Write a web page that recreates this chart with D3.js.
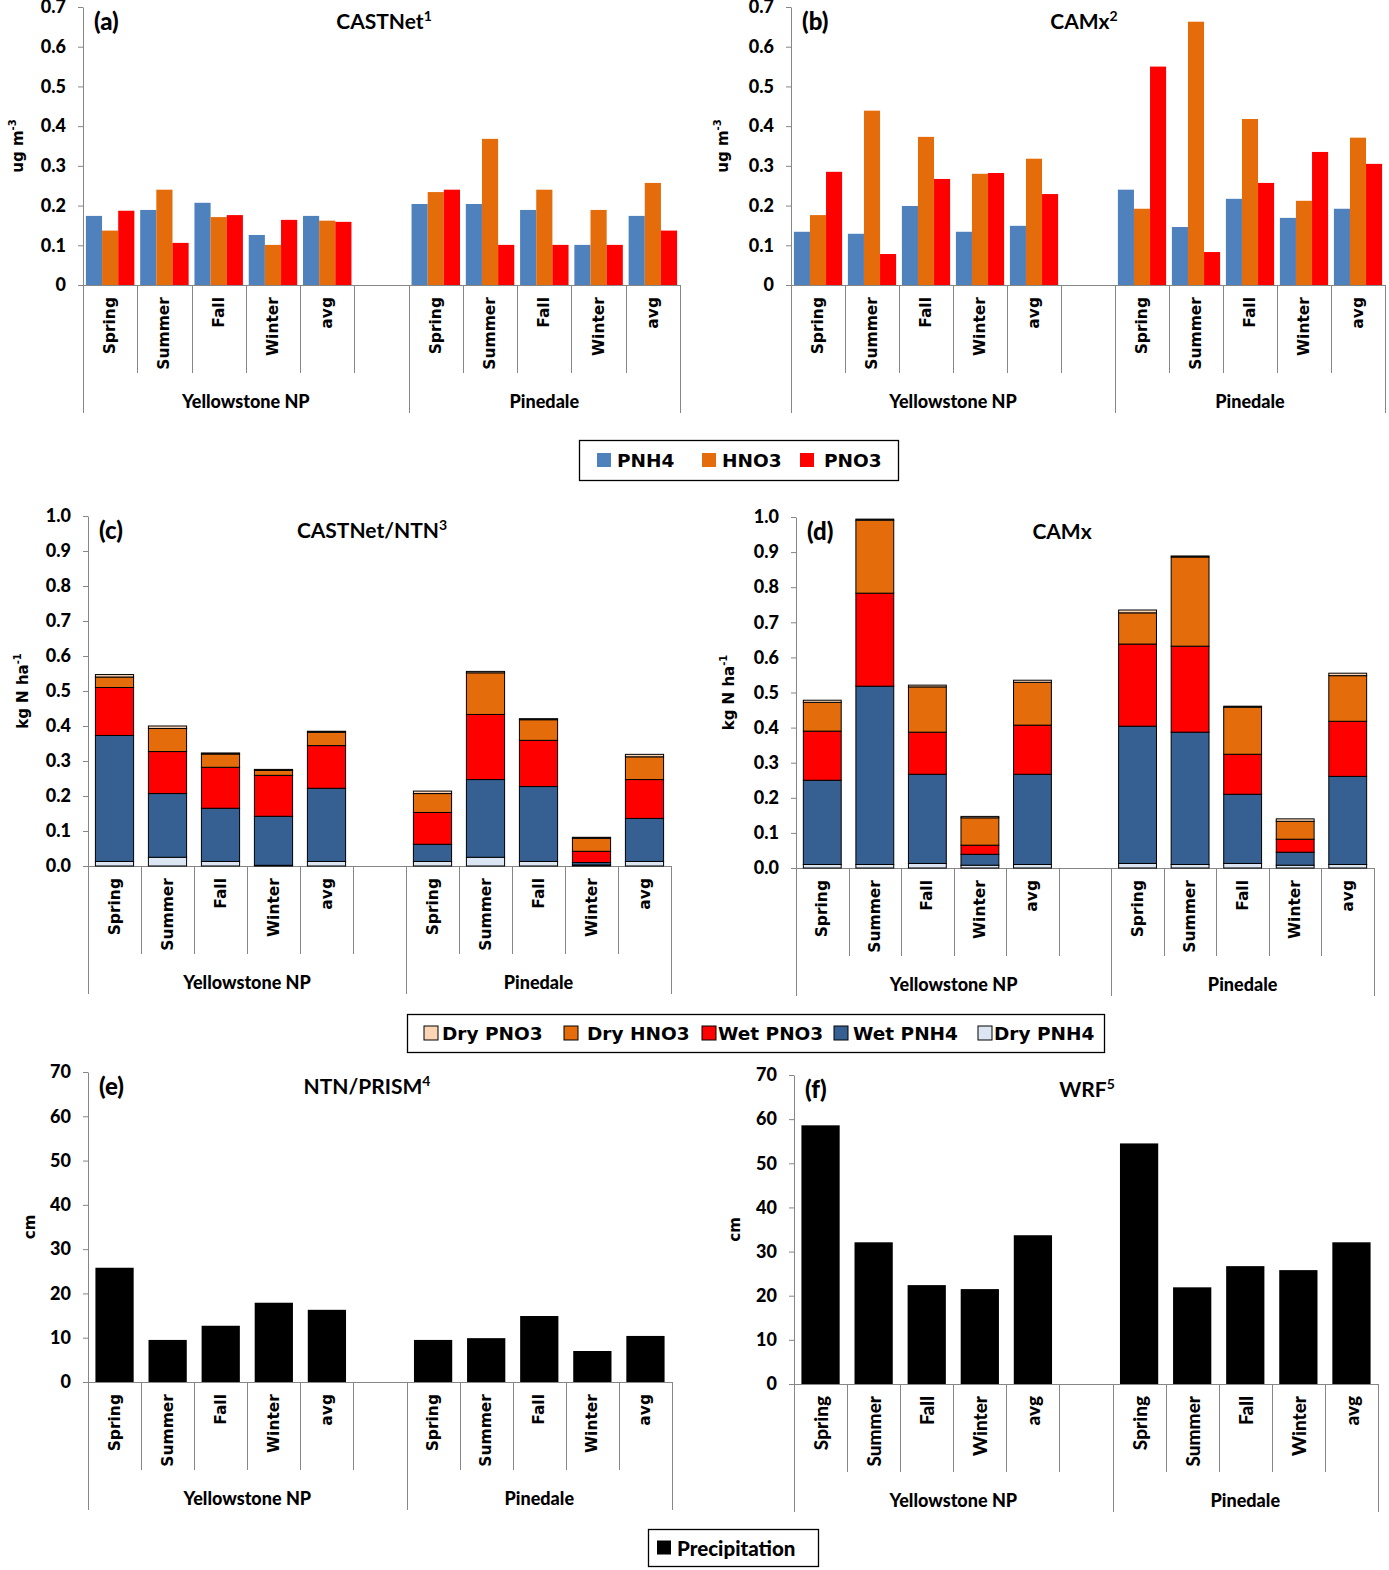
<!DOCTYPE html>
<html>
<head>
<meta charset="utf-8">
<script src="https://cdn.jsdelivr.net/npm/d3@7"></script>
<style>
  body { margin: 0; background: #fff; }
</style>
</head>
<body>
<svg id="chart" width="1389" height="1570"></svg>
<script>
// categories
const sites = ['Yellowstone NP', 'Pinedale']
const seasons = ['Spring', 'Summer', 'Fall', 'Winter', 'avg']
const species = ['PNH4', 'HNO3', 'PNO3']
const depKeys = ['dryPNH4', 'wetPNH4', 'wetPNO3', 'dryHNO3', 'dryPNO3']
const depNames = ['Dry PNH4', 'Wet PNH4', 'Wet PNO3', 'Dry HNO3', 'Dry PNO3']

// tick labels
const concTicks = [0, 0.1, 0.2, 0.3, 0.4, 0.5, 0.6, 0.7]
const depTicks = [0, 0.1, 0.2, 0.3, 0.4, 0.5, 0.6, 0.7, 0.8, 0.9, 1.0]
const precipTicks = [0, 10, 20, 30, 40, 50, 60, 70]

// values: Yellowstone NP (Spring..avg) then Pinedale (Spring..avg)
// (a) CASTNet, ug m-3
const castnetPNH4 = [0.174, 0.189, 0.207, 0.126, 0.174, 0.204, 0.204, 0.189, 0.101, 0.174]
const castnetHNO3 = [0.137, 0.240, 0.171, 0.101, 0.162, 0.234, 0.368, 0.240, 0.189, 0.257]
const castnetPNO3 = [0.187, 0.106, 0.176, 0.164, 0.159, 0.240, 0.101, 0.101, 0.101, 0.137]
// (b) CAMx, ug m-3
const camxPNH4 = [0.134, 0.129, 0.199, 0.134, 0.149, 0.240, 0.146, 0.217, 0.169, 0.192]
const camxHNO3 = [0.176, 0.439, 0.373, 0.280, 0.318, 0.192, 0.663, 0.418, 0.212, 0.371]
const camxPNO3 = [0.285, 0.078, 0.267, 0.282, 0.229, 0.550, 0.083, 0.257, 0.335, 0.305]
// (c) CASTNet/NTN deposition, kg N ha-1
const obsDryPNH4 = [0.013, 0.025, 0.013, 0.002, 0.013, 0.013, 0.025, 0.013, 0.003, 0.013]
const obsWetPNH4 = [0.360, 0.182, 0.152, 0.140, 0.209, 0.049, 0.222, 0.214, 0.007, 0.123]
const obsWetPNO3 = [0.137, 0.120, 0.117, 0.117, 0.122, 0.091, 0.186, 0.132, 0.032, 0.111]
const obsDryHNO3 = [0.030, 0.066, 0.038, 0.014, 0.038, 0.054, 0.119, 0.059, 0.037, 0.065]
const obsDryPNO3 = [0.007, 0.007, 0.003, 0.003, 0.003, 0.007, 0.004, 0.003, 0.003, 0.007]
// (d) CAMx deposition, kg N ha-1
const modDryPNH4 = [0.010, 0.010, 0.013, 0.008, 0.010, 0.013, 0.010, 0.013, 0.008, 0.010]
const modWetPNH4 = [0.240, 0.508, 0.254, 0.031, 0.257, 0.391, 0.377, 0.197, 0.037, 0.251]
const modWetPNO3 = [0.140, 0.265, 0.120, 0.026, 0.140, 0.234, 0.245, 0.114, 0.037, 0.157]
const modDryHNO3 = [0.082, 0.208, 0.129, 0.078, 0.122, 0.089, 0.254, 0.134, 0.051, 0.130]
const modDryPNO3 = [0.006, 0.003, 0.005, 0.004, 0.006, 0.008, 0.003, 0.003, 0.007, 0.007]
// (e) NTN/PRISM and (f) WRF precipitation, cm
const prismPrecip = [25.8, 9.5, 12.7, 17.9, 16.3, 9.5, 9.9, 14.9, 7.0, 10.4]
const wrfPrecip = [58.6, 32.1, 22.4, 21.5, 33.7, 54.5, 21.9, 26.7, 25.8, 32.1]

const concColor = { PNH4: '#4f81bd', HNO3: '#e46c0a', PNO3: '#ff0000' }
const depColor = { dryPNH4: '#dce6f2', wetPNH4: '#376092', wetPNO3: '#ff0000', dryHNO3: '#e46c0a', dryPNO3: '#fcd5b5' }

const WIDE = "'DejaVu Sans', Verdana, sans-serif"
const NARROW = "Lato, 'Open Sans', sans-serif"
const grey = '#868686'

const svg = d3.select('#chart')
svg.append('rect').attr('width', 1389).attr('height', 1570).attr('fill', '#fff')

// 11 slots: 5 seasons, an empty one, 5 seasons
const dataKeys = sites.flatMap((s) => seasons.map((t) => s + '|' + t))
const slotKeys = [...dataKeys.slice(0, 5), 'gap', ...dataKeys.slice(5)]

const fmt1 = (d) => (d === 0 ? '0' : d3.format('.1f')(d))

function frame(p) {
  const x = d3.scaleBand().domain(slotKeys).range([p.left, p.right])
  const y = d3.scaleLinear().domain([0, p.max]).range([p.zero, p.top])
  const g = svg.append('g')

  const ax = g
    .append('g')
    .attr('transform', `translate(${p.left},0)`)
    .call(d3.axisLeft(y).tickValues(p.ticks).tickFormat(p.fmt).tickSize(5).tickSizeOuter(0).tickPadding(12))
  ax.select('.domain').attr('stroke', grey)
  ax.selectAll('.tick line').attr('stroke', grey)
  ax.selectAll('.tick text')
    .attr('fill', '#000')
    .attr('font-family', NARROW)
    .attr('font-weight', 900)
    .attr('font-size', 18)

  // category axis
  g.append('line')
    .attr('x1', p.left).attr('x2', p.right)
    .attr('y1', p.zero + 0.5).attr('y2', p.zero + 0.5)
    .attr('stroke', grey)
  d3.range(slotKeys.length + 1).forEach((i) => {
    const bx = Math.round(p.left + i * x.step()) + 0.5
    const long = i === 0 || i === 6 || i === slotKeys.length
    g.append('line')
      .attr('x1', bx).attr('x2', bx)
      .attr('y1', p.zero).attr('y2', p.zero + (long ? 128 : 88))
      .attr('stroke', grey)
  })
  g.selectAll('.cat')
    .data(dataKeys)
    .join('text')
    .attr('transform', (d) => `translate(${x(d) + x.bandwidth() / 2},${p.zero + 12}) rotate(-90)`)
    .attr('text-anchor', 'end')
    .attr('dominant-baseline', 'central')
    .attr('font-family', p.catFont)
    .attr('font-weight', p.catWeight)
    .attr('font-size', p.catSize)
    .text((d) => d.split('|')[1])
  g.selectAll('.site')
    .data(sites)
    .join('text')
    .attr('x', (s, i) =>
      i === 0 ? (x(dataKeys[0]) + x('gap') + x.bandwidth()) / 2 : (x(dataKeys[5]) + p.right) / 2
    )
    .attr('y', p.zero + 116)
    .attr('text-anchor', 'middle')
    .attr('dominant-baseline', 'central')
    .attr('font-family', NARROW)
    .attr('font-weight', 900)
    .attr('font-size', 18)
    .text((s) => s)

  // y title
  const yt = g.append('text')
    .attr('transform', `translate(${p.left - p.yTitleDx},${(p.zero + p.top) / 2}) rotate(-90)`)
    .attr('text-anchor', 'middle')
    .attr('font-family', WIDE)
    .attr('font-weight', 700)
    .attr('font-size', 15)
  yt.append('tspan').text(p.yTitle)
  if (p.yTitleSup) yt.append('tspan').attr('dy', -7).attr('font-size', 10).text(p.yTitleSup)

  // tag and title
  g.append('text')
    .attr('x', p.left + 11).attr('y', p.top + 23)
    .attr('font-family', NARROW).attr('font-weight', 900).attr('font-size', 24)
    .text(p.tag)
  const tt = g.append('text')
    .attr('x', p.titleX).attr('y', p.top + 22)
    .attr('text-anchor', 'middle')
    .attr('font-family', NARROW).attr('font-weight', 700).attr('font-size', 21)
  tt.append('tspan').text(p.title)
  if (p.titleSup) tt.append('tspan').attr('dy', -8).attr('font-size', 14).text(p.titleSup)

  return { g, x, y }
}

function clustered(p, series) {
  const { g, x, y } = frame(p)
  const x1 = d3.scaleBand().domain(species).range([0, x.bandwidth()]).paddingOuter(0.18)
  const rows = dataKeys.map((k, i) => ({ key: k, vals: species.map((s, j) => ({ s, v: series[j][i] })) }))
  g.selectAll('.grp')
    .data(rows)
    .join('g')
    .attr('transform', (d) => `translate(${x(d.key)},0)`)
    .selectAll('rect')
    .data((d) => d.vals)
    .join('rect')
    .attr('x', (d) => x1(d.s))
    .attr('width', x1.bandwidth())
    .attr('y', (d) => y(d.v))
    .attr('height', (d) => y(0) - y(d.v))
    .attr('fill', (d) => concColor[d.s])
}

function stacked(p, series) {
  const { g, x, y } = frame(p)
  const xb = d3.scaleBand().domain(['bar']).range([0, x.bandwidth()]).paddingOuter(0.194)
  const rows = dataKeys.map((k, i) => {
    const r = { key: k }
    depKeys.forEach((d, j) => (r[d] = series[j][i]))
    return r
  })
  const layers = d3.stack().keys(depKeys)(rows)
  g.selectAll('.layer')
    .data(layers)
    .join('g')
    .attr('fill', (l) => depColor[l.key])
    .selectAll('rect')
    .data((l) => l)
    .join('rect')
    .attr('x', (d) => x(d.data.key) + xb('bar'))
    .attr('width', xb.bandwidth())
    .attr('y', (d) => y(d[1]))
    .attr('height', (d) => y(d[0]) - y(d[1]))
    .attr('stroke', '#000')
    .attr('stroke-width', 1)
}

function precip(p, values) {
  const { g, x, y } = frame(p)
  const xb = d3.scaleBand().domain(['bar']).range([0, x.bandwidth()]).paddingOuter(0.194)
  g.selectAll('.bar')
    .data(dataKeys.map((k, i) => ({ key: k, v: values[i] })))
    .join('rect')
    .attr('x', (d) => x(d.key) + xb('bar'))
    .attr('width', xb.bandwidth())
    .attr('y', (d) => y(d.v))
    .attr('height', (d) => y(0) - y(d.v))
    .attr('fill', '#000')
}

clustered(
  { left: 83, right: 680, zero: 285, top: 7, max: 0.7, ticks: concTicks, fmt: fmt1,
    yTitle: 'ug m', yTitleSup: '-3', yTitleDx: 60, tag: '(a)', title: 'CASTNet', titleSup: '1',
    titleX: 384, catFont: WIDE, catSize: 15.5, catWeight: 700 },
  [castnetPNH4, castnetHNO3, castnetPNO3]
)
clustered(
  { left: 791, right: 1385, zero: 285, top: 7, max: 0.7, ticks: concTicks, fmt: fmt1,
    yTitle: 'ug m', yTitleSup: '-3', yTitleDx: 63, tag: '(b)', title: 'CAMx', titleSup: '2',
    titleX: 1084, catFont: WIDE, catSize: 15.5, catWeight: 700 },
  [camxPNH4, camxHNO3, camxPNO3]
)
stacked(
  { left: 88, right: 671, zero: 866, top: 516, max: 1.0, ticks: depTicks, fmt: d3.format('.1f'),
    yTitle: 'kg N  ha', yTitleSup: '-1', yTitleDx: 60, tag: '(c)', title: 'CASTNet/NTN', titleSup: '3',
    titleX: 372, catFont: WIDE, catSize: 15.5, catWeight: 700 },
  [obsDryPNH4, obsWetPNH4, obsWetPNO3, obsDryHNO3, obsDryPNO3]
)
stacked(
  { left: 796, right: 1374, zero: 868, top: 517, max: 1.0, ticks: depTicks, fmt: d3.format('.1f'),
    yTitle: 'kg N  ha', yTitleSup: '-1', yTitleDx: 62, tag: '(d)', title: 'CAMx', titleSup: '',
    titleX: 1062, catFont: WIDE, catSize: 15.5, catWeight: 700 },
  [modDryPNH4, modWetPNH4, modWetPNO3, modDryHNO3, modDryPNO3]
)
precip(
  { left: 88, right: 672, zero: 1382, top: 1072, max: 70, ticks: precipTicks, fmt: d3.format('d'),
    yTitle: 'cm', yTitleDx: 53, tag: '(e)', title: 'NTN/PRISM', titleSup: '4',
    titleX: 367, catFont: WIDE, catSize: 15.5, catWeight: 700 },
  prismPrecip
)
precip(
  { left: 794, right: 1378, zero: 1384, top: 1075, max: 70, ticks: precipTicks, fmt: d3.format('d'),
    yTitle: 'cm', yTitleDx: 54, tag: '(f)', title: 'WRF', titleSup: '5',
    titleX: 1087, catFont: NARROW, catSize: 19, catWeight: 900 },
  wrfPrecip
)

// legends
function legend(box, items, font, size, weight) {
  const g = svg.append('g')
  g.append('rect')
    .attr('x', box.x + 0.5).attr('y', box.y + 0.5)
    .attr('width', box.w).attr('height', box.h)
    .attr('fill', '#fff').attr('stroke', '#000').attr('stroke-width', 1.3)
  const cy = box.y + box.h / 2
  items.forEach((it) => {
    g.append('rect')
      .attr('x', it.sx).attr('y', cy - 7)
      .attr('width', 14).attr('height', 14)
      .attr('fill', it.color)
      .attr('stroke', it.outline ? '#000' : 'none')
    g.append('text')
      .attr('x', it.tx).attr('y', cy)
      .attr('dominant-baseline', 'central')
      .attr('font-family', font).attr('font-weight', weight).attr('font-size', size)
      .text(it.name)
  })
}

const concPos = [[597, 617], [702, 722], [800, 824]]
legend({ x: 579, y: 440, w: 319, h: 40 },
  species.map((s, i) => ({ name: s, color: concColor[s], sx: concPos[i][0], tx: concPos[i][1] })),
  WIDE, 18.5, 700)

const depOrder = [4, 3, 2, 1, 0]
const depPos = [[424, 442], [564, 587], [702, 718], [834, 853], [978, 994]]
legend({ x: 407, y: 1014, w: 697, h: 38 },
  depOrder.map((k, i) => ({ name: depNames[k], color: depColor[depKeys[k]], outline: true,
    sx: depPos[i][0], tx: depPos[i][1] })),
  WIDE, 18.5, 700)

legend({ x: 648, y: 1529, w: 170, h: 37 },
  [{ name: 'Precipitation', color: '#000', sx: 657, tx: 677 }],
  NARROW, 20.5, 900)
</script>
</body>
</html>
